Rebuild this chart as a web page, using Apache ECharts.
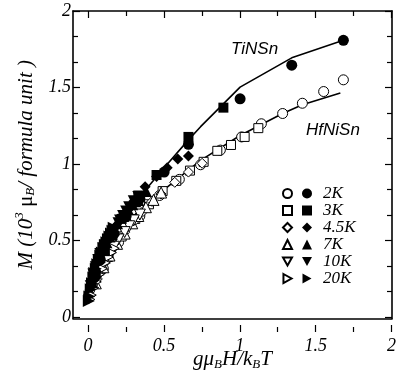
<!DOCTYPE html>
<html><head><meta charset="utf-8">
<script src="https://cdn.jsdelivr.net/npm/echarts@6/dist/echarts.min.js"></script>
<style>html,body{margin:0;padding:0;background:#fff}#c{width:399px;height:376px}</style>
</head><body><div id="c"></div>
<script>
// ---- data ----
const temps = ['2K', '3K', '4.5K', '7K', '10K', '20K'];
const symbols = ['circle', 'rect', 'diamond', 'triangle',
  'path://M0,0 L10,0 L5,9 Z', 'path://M0,0 L9,5 L0,10 Z'];

// TiNSn (filled symbols)
const ti2K  = [[1.68,1.80],[1.34,1.63],[1.00,1.40],[0.66,1.09],[0.50,0.90],[0.34,0.72],[0.25,0.60],[0.17,0.48],[0.08,0.30],[0.04,0.18]];
const ti3K  = [[0.89,1.34],[0.66,1.14],[0.45,0.88],[0.33,0.74],[0.22,0.58],[0.16,0.47],[0.11,0.36],[0.05,0.20]];
const ti45K = [[0.66,1.01],[0.59,0.99],[0.52,0.93],[0.45,0.87],[0.375,0.80],[0.30,0.70],[0.26,0.64],[0.22,0.60],[0.18,0.53],[0.15,0.48],[0.11,0.40],[0.075,0.32],[0.04,0.20]];
const ti7K  = [[0.38,0.77],[0.33,0.71],[0.31,0.70],[0.29,0.68],[0.26,0.65],[0.23,0.60],[0.19,0.55],[0.17,0.51],[0.14,0.46],[0.12,0.42],[0.10,0.38],[0.075,0.32],[0.05,0.25],[0.025,0.15]];
const ti10K = [[0.33,0.73],[0.30,0.70],[0.27,0.66],[0.25,0.63],[0.23,0.60],[0.21,0.57],[0.20,0.55],[0.17,0.50],[0.15,0.47],[0.13,0.44],[0.11,0.40],[0.10,0.38],[0.08,0.34],[0.067,0.30],[0.05,0.25],[0.034,0.20],[0.017,0.12]];
const ti20K = [[0.168,0.52],[0.16,0.50],[0.15,0.48],[0.14,0.46],[0.13,0.44],[0.12,0.42],[0.11,0.40],[0.10,0.38],[0.09,0.35],[0.08,0.33],[0.07,0.30],[0.06,0.27],[0.05,0.24],[0.04,0.21],[0.034,0.18],[0.025,0.14],[0.017,0.10],[0.008,0.05],[0.004,0.02]];

// HfNiSn (open symbols)
const hf2K  = [[1.68,1.53],[1.55,1.45],[1.41,1.37],[1.28,1.30],[1.14,1.23],[1.01,1.14],[0.87,1.05],[0.74,0.95],[0.60,0.85],[0.47,0.74],[0.34,0.60],[0.20,0.42],[0.10,0.24]];
const hf3K  = [[1.12,1.20],[1.03,1.14],[0.94,1.085],[0.85,1.045],[0.76,0.97],[0.67,0.91],[0.58,0.84],[0.49,0.77],[0.40,0.68],[0.31,0.58],[0.22,0.46],[0.13,0.32]];
const hf45K = [[0.75,0.96],[0.66,0.90],[0.57,0.83],[0.48,0.75],[0.42,0.70],[0.36,0.63],[0.30,0.56],[0.24,0.49],[0.18,0.40],[0.12,0.30],[0.06,0.17]];
const hf7K  = [[0.48,0.76],[0.43,0.71],[0.38,0.66],[0.33,0.60],[0.29,0.55],[0.24,0.48],[0.19,0.41],[0.14,0.33],[0.10,0.25],[0.05,0.14]];
const hf10K = [[0.34,0.61],[0.30,0.57],[0.27,0.53],[0.24,0.49],[0.20,0.44],[0.17,0.39],[0.13,0.33],[0.10,0.27],[0.067,0.20],[0.034,0.11]];
const hf20K = [[0.168,0.38],[0.15,0.35],[0.13,0.32],[0.11,0.28],[0.09,0.24],[0.07,0.20],[0.05,0.15],[0.034,0.11],[0.017,0.06],[0.008,0.03]];

// theory curves
const tiCurve = [[0,0],[0.05,0.17],[0.1,0.30],[0.2,0.52],[0.33,0.72],[0.5,0.93],[0.66,1.12],[0.74,1.21],[1.0,1.48],[1.34,1.68],[1.68,1.80]];
const hfCurve = [[0,0],[0.05,0.12],[0.1,0.22],[0.2,0.40],[0.3,0.55],[0.5,0.78],[0.74,0.98],[1.0,1.15],[1.28,1.30],[1.41,1.36],[1.66,1.44]];

const tickValuesX = ['0', '0.5', '1', '1.5', '2'];
const tiSets = [ti2K, ti3K, ti45K, ti7K, ti10K, ti20K];
const hfSets = [hf2K, hf3K, hf45K, hf7K, hf10K, hf20K];

// ---- chart ----
const serif = '"Liberation Serif", "DejaVu Serif", serif';
const chart = echarts.init(document.getElementById('c'), null, {renderer: 'canvas'});
const symSizes = [10, 9, 10, 11, 11, 11];

const series = [];
series.push({type: 'line', name: 'hfCurve', data: hfCurve, xAxisIndex: 0, yAxisIndex: 0,
  showSymbol: false, symbol: 'none', lineStyle: {color: '#000', width: 1.6}, silent: true, z: 2});
series.push({type: 'line', name: 'tiCurve', data: tiCurve, xAxisIndex: 0, yAxisIndex: 0,
  showSymbol: false, symbol: 'none', lineStyle: {color: '#000', width: 1.6}, silent: true, z: 2});
temps.forEach((t, i) => {
  series.push({type: 'scatter', name: 'open ' + t, data: hfSets[i], xAxisIndex: 0, yAxisIndex: 0,
    symbol: symbols[i], symbolSize: symSizes[i],
    itemStyle: {color: '#fff', borderColor: '#000', borderWidth: 1, opacity: 1}, z: 3});
});
temps.forEach((t, i) => {
  series.push({type: 'scatter', name: t, data: tiSets[i], xAxisIndex: 0, yAxisIndex: 0,
    symbol: symbols[i], symbolSize: symSizes[i] + 1,
    itemStyle: {color: '#000', borderColor: '#000', borderWidth: 0, opacity: 1}, z: 4});
});

const labelStyle = {fontFamily: serif, fontStyle: 'italic', fontSize: 18, color: '#000'};
const frameLine = {show: true, onZero: false, lineStyle: {color: '#000', width: 1.6}};
const tickStyle = {show: true, inside: true, length: 7, lineStyle: {color: '#000', width: 1.2}};
const legendText = {fontFamily: serif, fontStyle: 'italic', fontSize: 17, lineHeight: 16.5, color: '#000', padding: [0, 0, 0, 6]};

const option = {
  animation: false,
  backgroundColor: '#fff',
  grid: [
    {left: 73, right: 7, top: 11, bottom: 44},
    {left: 88, right: 7, top: 11, bottom: 44},
    {left: 73, right: 7, top: 11, bottom: 59}
  ],
  xAxis: [
    {gridIndex: 0, type: 'value', min: -0.1, max: 2, position: 'bottom', axisLine: frameLine, axisTick: {show: false},
     axisLabel: {show: false}, splitLine: {show: false},
     name: '{n|gμ}{s|B}{n|H/k}{s|B}{n|T}', nameLocation: 'middle', nameGap: 29,
     nameTextStyle: {rich: {
       n: {fontFamily: serif, fontStyle: 'italic', fontSize: 21, color: '#000', lineHeight: 24},
       s: {fontFamily: serif, fontStyle: 'italic', fontSize: 13, color: '#000', lineHeight: 24, padding: [10, 0, 0, 0]}
     }}},
    {gridIndex: 0, type: 'value', min: -0.1, max: 2, position: 'top', axisLine: frameLine, axisTick: {show: false},
     axisLabel: {show: false}, splitLine: {show: false}},
    {gridIndex: 1, type: 'value', position: 'bottom', min: 0, max: 2, interval: 0.5,
     axisLine: {show: false, onZero: false}, splitLine: {show: false}, axisTick: tickStyle,
     minorTick: {show: true, splitNumber: 2, length: 5, lineStyle: {color: '#000', width: 1.2}},
     axisLabel: Object.assign({margin: 5, formatter: v => tickValuesX[Math.round(v * 2)] || ''}, labelStyle)},
    {gridIndex: 1, type: 'value', position: 'top', min: 0, max: 2, interval: 0.5,
     axisLine: {show: false, onZero: false}, splitLine: {show: false}, axisLabel: {show: false}, axisTick: tickStyle,
     minorTick: {show: true, splitNumber: 2, length: 5, lineStyle: {color: '#000', width: 1.2}}},
    {gridIndex: 2, type: 'value', show: false, min: 0, max: 1}
  ],
  yAxis: [
    {gridIndex: 0, type: 'value', min: -0.1, max: 2, position: 'left', axisLine: frameLine, axisTick: {show: false},
     axisLabel: {show: false}, splitLine: {show: false},
     name: '{n|M (10}{p|3}{u| μ}{s|B}{n|/ formula unit )}', nameLocation: 'middle', nameGap: 34, nameRotate: 90,
     nameTextStyle: {rich: {
       n: {fontFamily: serif, fontStyle: 'italic', fontSize: 21, color: '#000', lineHeight: 26},
       u: {fontFamily: serif, fontSize: 21, color: '#000', lineHeight: 26},
       p: {fontFamily: serif, fontStyle: 'italic', fontSize: 13, color: '#000', lineHeight: 26, padding: [0, 0, 12, 0]},
       s: {fontFamily: serif, fontStyle: 'italic', fontSize: 13, color: '#000', lineHeight: 26, padding: [10, 0, 0, 0]}
     }}},
    {gridIndex: 0, type: 'value', min: -0.1, max: 2, position: 'right', axisLine: frameLine, axisTick: {show: false},
     axisLabel: {show: false}, splitLine: {show: false}},
    {gridIndex: 1, type: 'value', show: false, min: 0, max: 1},
    {gridIndex: 2, type: 'value', position: 'left', min: 0, max: 2, interval: 0.5,
     axisLine: {show: false, onZero: false}, splitLine: {show: false}, axisTick: tickStyle,
     minorTick: {show: true, splitNumber: 3, length: 5, lineStyle: {color: '#000', width: 1.2}},
     axisLabel: Object.assign({margin: 2}, labelStyle)},
    {gridIndex: 2, type: 'value', position: 'right', min: 0, max: 2, interval: 0.5,
     axisLine: {show: false, onZero: false}, splitLine: {show: false}, axisLabel: {show: false}, axisTick: tickStyle,
     minorTick: {show: true, splitNumber: 3, length: 5, lineStyle: {color: '#000', width: 1.2}}}
  ],
  legend: [
    {orient: 'vertical', left: 277, top: 180, itemWidth: 9, itemHeight: 9, itemGap: 0,
     data: temps.map(t => 'open ' + t),
     formatter: () => '\u00a0', selectedMode: false, textStyle: legendText},
    {orient: 'vertical', left: 297, top: 180, itemWidth: 10, itemHeight: 10, itemGap: 0,
     data: temps, selectedMode: false, textStyle: legendText}
  ],
  graphic: [
    {type: 'text', left: 231, top: 41, style: {text: 'TiNSn', font: 'italic 17px "Liberation Sans", Arial, sans-serif', fill: '#000'}},
    {type: 'text', left: 306, top: 122, style: {text: 'HfNiSn', font: 'italic 17px "Liberation Sans", Arial, sans-serif', fill: '#000'}}
  ],
  series: series
};
chart.setOption(option);
</script></body></html>
